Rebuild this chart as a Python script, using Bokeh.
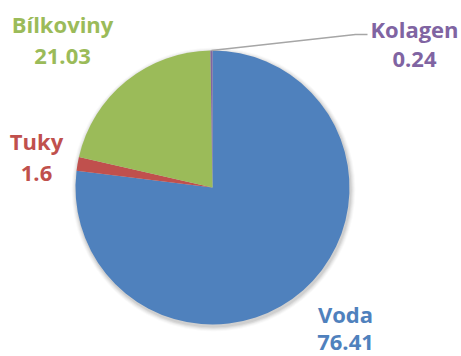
import numpy as np
from bokeh.plotting import figure
from bokeh.models import Range1d, ColumnDataSource
from bokeh.core.properties import value
from bokeh.embed import file_html
from bokeh.resources import INLINE

categories = ["Voda", "Tuky", "Bílkoviny", "Kolagen"]
values = [76.41, 1.6, 21.03, 0.24]
value_labels = ["76.41", "1.6", "21.03", "0.24"]
colors = ["#4F81BD", "#C0504D", "#9BBB59", "#8064A2"]

W, H = 461, 356
p = figure(width=W, height=H, output_backend="svg", toolbar_location=None,
           x_range=Range1d(0, W), y_range=Range1d(0, H), min_border=0)
p.axis.visible = False
p.grid.visible = False
p.outline_line_color = None
p.background_fill_color = "white"
p.border_fill_color = "white"

def Y(img_y):
    return H - img_y

cx, cy, r = 212, Y(187), 137

vals = np.array(values)
frac = vals / vals.sum()
ends = np.pi / 2 - 2 * np.pi * np.cumsum(frac)
starts = np.concatenate([[np.pi / 2], ends[:-1]])

# soft shadow
for k, a in zip([5, 4, 3, 2, 1], [0.02, 0.03, 0.04, 0.05, 0.06]):
    p.circle(x=cx + 1, y=cy - 2, radius=r + k, fill_color="black",
             fill_alpha=a, line_color=None)

src = ColumnDataSource(dict(start=ends, end=starts, color=colors))
p.wedge(x=cx, y=cy, radius=r, start_angle="start", end_angle="end",
        fill_color="color", line_color=None, source=src)

# leader line for Kolagen
mid = (starts[3] + ends[3]) / 2
lx0, ly0 = cx + r * np.cos(mid), cy + r * np.sin(mid)
p.line(x=[lx0, 355, 367], y=[ly0, Y(34), Y(34)], line_color="#A6A6A6",
       line_width=1.5)

# label positions (image coords: centre x, vertical centre of each line)
label_x = [345, 36, 62, 414]
label_y1 = [313, 140, 23, 28]
label_y2 = [342, 173, 56, 59]

for ys, txt in ((label_y1, categories), (label_y2, value_labels)):
    p.text(x=label_x, y=[Y(v) for v in ys], text=txt,
           text_color=colors, text_font=value("Open Sans"),
           text_font_style="bold", text_font_size="22px",
           text_align="center", text_baseline="middle")

open("out.html", "w").write(file_html(p, INLINE))
